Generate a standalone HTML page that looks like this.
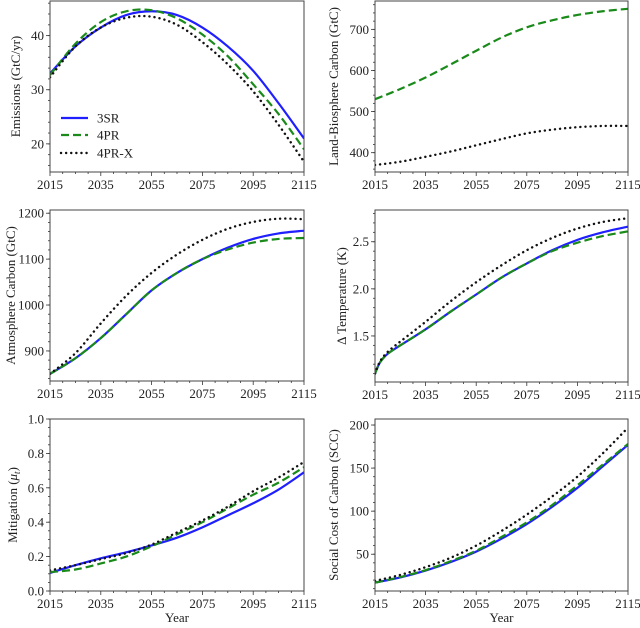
<!DOCTYPE html>
<html><head><meta charset="utf-8"><style>
body{margin:0;background:#fff;}
svg text{font-family:"Liberation Serif",serif;fill:#222;}
</style></head><body>
<svg id="c" width="640" height="623" xmlns="http://www.w3.org/2000/svg"></svg>
<script>
const years10=[2015,2025,2035,2045,2055,2065,2075,2085,2095,2105,2115];
const yearsT=[2015,2017,2020,2025,2035,2045,2055,2065,2075,2085,2095,2105,2115];
const xTicks=[2015,2035,2055,2075,2095,2115];
const emis3SR=[33,38,41.5,43.8,44.5,43.8,41.5,38,33.5,27.5,21];
const emis4PR=[32.7,38.5,42.5,44.5,44.7,43.2,40.2,36.2,31,25.5,19];
const emis4PRX=[32.3,38,41.5,43.3,43.5,42,38.8,34.7,29.7,23.5,16.7];
const land4PR=[530,555,583,615,648,680,705,722,735,744,750];
const land4PRX=[370,378,390,403,418,433,447,456,462,465,465];
const atm3SR=[850,884,928,980,1032,1070,1100,1125,1144,1156,1162];
const atm4PR=[850,884,928,980,1032,1070,1100,1121,1136,1144,1146];
const atm4PRX=[850,895,960,1020,1070,1110,1142,1166,1181,1188,1187];
const temp3SR=[1.1,1.22,1.31,1.4,1.57,1.76,1.94,2.12,2.27,2.41,2.52,2.6,2.66];
const temp4PR=[1.1,1.22,1.31,1.4,1.57,1.76,1.94,2.12,2.27,2.40,2.49,2.56,2.61];
const temp4PRX=[1.1,1.23,1.33,1.44,1.65,1.87,2.07,2.25,2.41,2.54,2.64,2.71,2.75];
const mit3SR=[0.105,0.15,0.19,0.225,0.265,0.31,0.37,0.44,0.51,0.59,0.69];
const mit4PR=[0.11,0.125,0.16,0.2,0.26,0.33,0.4,0.48,0.56,0.63,0.72];
const mit4PRX=[0.12,0.15,0.185,0.22,0.27,0.34,0.41,0.49,0.58,0.66,0.75];
const scc3SR=[17,23,31,41,53,68,85,105,127,152,177];
const scc4PR=[17,23.5,31.5,42,54,70,87,107,130,154,178];
const scc4PRX=[19,26,35,46,60,77,96,117,140,167,197];

const NS="http://www.w3.org/2000/svg";
const svg=document.getElementById('c');
function mk(tag,attrs,parent){const e=document.createElementNS(NS,tag);for(const k in attrs)e.setAttribute(k,attrs[k]);(parent||svg).appendChild(e);return e;}
const styles={
 s3SR:{stroke:'#1f1fff','stroke-width':2.2,fill:'none'},
 s4PR:{stroke:'#1a8a1a','stroke-width':2.2,fill:'none','stroke-dasharray':'8,4'},
 s4PRX:{stroke:'#111','stroke-width':2.4,fill:'none','stroke-dasharray':'0.1,5','stroke-linecap':'round'}
};
function pathD(pts){
 let d='M'+pts[0][0]+','+pts[0][1];
 for(let i=0;i<pts.length-1;i++){
  const p0=pts[Math.max(0,i-1)],p1=pts[i],p2=pts[i+1],p3=pts[Math.min(pts.length-1,i+2)];
  const c1=[p1[0]+(p2[0]-p0[0])/6,p1[1]+(p2[1]-p0[1])/6];
  const c2=[p2[0]-(p3[0]-p1[0])/6,p2[1]-(p3[1]-p1[1])/6];
  d+=` C${c1[0]},${c1[1]} ${c2[0]},${c2[1]} ${p2[0]},${p2[1]}`;
 }
 return d;
}
function panel(o){
 const g=mk('g',{});
 
 
 const sx=v=>o.x0+(v-2015)/100*(o.x1-o.x0);
 const sy=v=>o.y1-(v-o.ymin)/(o.ymax-o.ymin)*(o.y1-o.y0);
 for(let yr=2015;yr<=2115;yr+=5){mk('line',{x1:sx(yr),x2:sx(yr),y1:o.y1,y2:o.y1+(xTicks.includes(yr)?4:2),stroke:'#333','stroke-width':0.8},g);}
 xTicks.forEach(t=>{const tx=mk('text',{x:sx(t),y:o.y1+17,'text-anchor':'middle','font-size':13},g);tx.textContent=t;
  });
 for(let v=o.minorStart;v<=o.ymax+1e-9;v+=o.minorStep){if(v<o.ymin)continue;mk('line',{x1:o.x0,x2:o.x0-2,y1:sy(v),y2:sy(v),stroke:'#333','stroke-width':0.8},g);}
 o.yTicks.forEach(t=>{mk('line',{x1:o.x0,x2:o.x0-4,y1:sy(t),y2:sy(t),stroke:'#333','stroke-width':0.8},g);
  const tx=mk('text',{x:o.x0-6,y:sy(t)+4.5,'text-anchor':'end','font-size':13},g);tx.textContent=o.fmt?o.fmt(t):t;
  });
 const yl=mk('text',{x:0,y:0,'text-anchor':'middle','font-size':13,transform:`translate(${o.labelX},${(o.y0+o.y1)/2}) rotate(-90)`},g);
 if(o.ylabelHTML){yl.innerHTML=o.ylabelHTML;}else{yl.textContent=o.ylabel;}
 
 const cp=mk('clipPath',{id:'cp'+o.name},g);mk('rect',{x:o.x0,y:o.y0,width:o.x1-o.x0,height:o.y1-o.y0},cp);
 o.series.forEach(s=>{const pts=s.xs.map((x,i)=>[sx(x),sy(s.v[i])]);
  const p=mk('path',Object.assign({d:pathD(pts),'clip-path':`url(#cp${o.name})`},styles[s.st]),g);
  });
 const fr=mk('rect',{x:o.x0,y:o.y0,width:o.x1-o.x0,height:o.y1-o.y0,fill:'none',stroke:'#444','stroke-width':1},g);
 
 if(o.xlabel){const t=mk('text',{x:(o.x0+o.x1)/2,y:o.y1+31,'text-anchor':'middle','font-size':13},g);t.textContent='Year';
  }
}
const L={x0:50,x1:304},R={x0:375,x1:628};
panel({name:'emissions-panel',...L,y0:1,y1:172,ymin:14.8,ymax:46.4,yTicks:[20,30,40],minorStart:16,minorStep:2,labelX:20,ylabel:'Emissions (GtC/yr)',
 series:[{xs:years10,v:emis3SR,st:'s3SR',nm:'line-3sr'},{xs:years10,v:emis4PR,st:'s4PR',nm:'line-4pr'},{xs:years10,v:emis4PRX,st:'s4PRX',nm:'line-4pr-x'}]});
panel({name:'land-biosphere-panel',...R,y0:1,y1:172,ymin:353,ymax:769,yTicks:[400,500,600,700],minorStart:360,minorStep:20,labelX:338,ylabel:'Land-Biosphere Carbon (GtC)',
 series:[{xs:years10,v:land4PR,st:'s4PR',nm:'line-4pr'},{xs:years10,v:land4PRX,st:'s4PRX',nm:'line-4pr-x'}]});
panel({name:'atmosphere-panel',...L,y0:210,y1:381,ymin:834.5,ymax:1207,yTicks:[900,1000,1100,1200],minorStart:840,minorStep:20,labelX:15,ylabel:'Atmosphere Carbon (GtC)',
 series:[{xs:years10,v:atm3SR,st:'s3SR',nm:'line-3sr'},{xs:years10,v:atm4PR,st:'s4PR',nm:'line-4pr'},{xs:years10,v:atm4PRX,st:'s4PRX',nm:'line-4pr-x'}]});
panel({name:'temperature-panel',...R,y0:210,y1:382,ymin:1.011,ymax:2.837,yTicks:[1.5,2.0,2.5],fmt:v=>v.toFixed(1),minorStart:1.1,minorStep:0.1,labelX:346,ylabel:'Δ Temperature (K)',
 series:[{xs:yearsT,v:temp3SR,st:'s3SR',nm:'line-3sr'},{xs:yearsT,v:temp4PR,st:'s4PR',nm:'line-4pr'},{xs:yearsT,v:temp4PRX,st:'s4PRX',nm:'line-4pr-x'}]});
panel({name:'mitigation-panel',...L,y0:419,y1:591,ymin:0,ymax:1,yTicks:[0,0.2,0.4,0.6,0.8,1.0],fmt:v=>v.toFixed(1),minorStart:0,minorStep:0.05,labelX:17,ylabel:'Mitigation (μt)',ylabelHTML:'Mitigation (<tspan font-style="italic">μ</tspan><tspan font-size="9" font-style="italic" dy="3">t</tspan><tspan dy="-3">)</tspan>',xlabel:true,
 series:[{xs:years10,v:mit3SR,st:'s3SR',nm:'line-3sr'},{xs:years10,v:mit4PR,st:'s4PR',nm:'line-4pr'},{xs:years10,v:mit4PRX,st:'s4PRX',nm:'line-4pr-x'}]});
panel({name:'scc-panel',...R,y0:419,y1:591,ymin:7.3,ymax:207,yTicks:[50,100,150,200],minorStart:10,minorStep:10,labelX:338,ylabel:'Social Cost of Carbon (SCC)',xlabel:true,
 series:[{xs:years10,v:scc3SR,st:'s3SR',nm:'line-3sr'},{xs:years10,v:scc4PR,st:'s4PR',nm:'line-4pr'},{xs:years10,v:scc4PRX,st:'s4PRX',nm:'line-4pr-x'}]});
const lg=mk('g',{});


[['3SR','s3SR',118],['4PR','s4PR',135],['4PR-X','s4PRX',153]].forEach(([t,st,y])=>{
 const l=mk('line',Object.assign({x1:61,x2:88,y1:y,y2:y},styles[st]),lg);
 
 const tx=mk('text',{x:97,y:y+4.5,'font-size':13},lg);tx.textContent=t;
 
});
</script>
</body></html>
